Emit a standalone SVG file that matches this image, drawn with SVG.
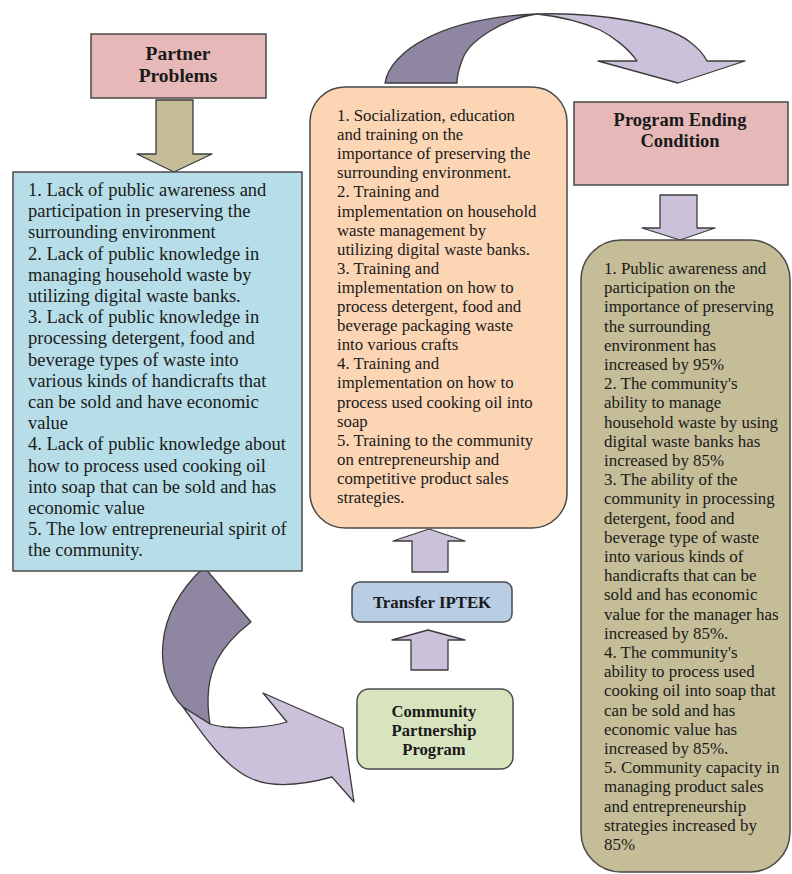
<svg xmlns="http://www.w3.org/2000/svg" width="792" height="874" viewBox="0 0 792 874">
<style>
.box{stroke:#4a4a4a;stroke-width:1.5}
.arr{stroke:#3c3c3c;stroke-width:1.3;stroke-linejoin:round}
.t{font-family:"Liberation Serif","Times New Roman",serif;fill:#1a1a1a}
.title{font-family:"Liberation Serif","Times New Roman",serif;font-weight:bold;fill:#1a1a1a;text-anchor:middle}
.light{fill:#ccc1da}
.dark{fill:#8f86a1}
</style>
<rect width="792" height="874" fill="#ffffff"/>

<g id="connectors">
  <polygon class="arr" fill="#c4bd97" points="156,100 193,100 193,154 212,154 174,172 137,154 156,154"/>
  <polygon class="arr light" points="660,195 697,195 697,228 715,228 680,240 642,228 660,228"/>
  <polygon class="arr light" points="412,572 448,572 448,541 465,541 429,529 393,541 412,541"/>
  <polygon class="arr light" points="411,670 448,670 448,640 465,640 428,630 392,640 411,640"/>
  <path class="arr dark" d="M385,83 C390,52 440,18 537,14 C505,18 470,40 463,58 C459,68 457,76 457,83 Z"/>
  <path class="arr light" d="M537,14 C600,12 668,24 690,42 C698,48 704,55 707,61 L745,61 L678,83 L598,61 L637,61 C628,48 612,36 600,30 C580,21 555,16 537,14 Z"/>
  <path class="arr dark" d="M204,567 C185,585 166,610 163,643 C160,670 170,695 183,707 L210,724 C206,700 208,678 217,660 C226,643 238,632 251,622 Z"/>
  <path class="arr light" d="M183,707 C200,730 222,765 250,778 C275,790 310,783 332,777 L354,802 L343,728 L263,693 L287,722 C270,727 245,729 225,727 C218,726 213,725 210,724 Z"/>
</g>

<g id="partner-problems">
  <rect class="box" x="91" y="34" width="175" height="64" fill="#e6b9b8"/>
  <text class="title" font-size="19.5" x="178" y="60">Partner</text>
  <text class="title" font-size="19.5" x="178" y="82">Problems</text>
</g>

<g id="problems-list">
  <rect class="box" x="13" y="172" width="289" height="399" fill="#b7dee8" stroke="#44586a"/>
  <text class="t" font-size="18.5">
    <tspan x="28" y="196">1. Lack of public awareness and</tspan>
    <tspan x="28" y="217.2">participation in preserving the</tspan>
    <tspan x="28" y="238.4">surrounding environment</tspan>
    <tspan x="28" y="259.6">2. Lack of public knowledge in</tspan>
    <tspan x="28" y="280.8">managing household waste by</tspan>
    <tspan x="28" y="302">utilizing digital waste banks.</tspan>
    <tspan x="28" y="323.2">3. Lack of public knowledge in</tspan>
    <tspan x="28" y="344.4">processing detergent, food and</tspan>
    <tspan x="28" y="365.6">beverage types of waste into</tspan>
    <tspan x="28" y="386.8">various kinds of handicrafts that</tspan>
    <tspan x="28" y="408">can be sold and have economic</tspan>
    <tspan x="28" y="429.2">value</tspan>
    <tspan x="28" y="450.4">4. Lack of public knowledge about</tspan>
    <tspan x="28" y="471.6">how to process used cooking oil</tspan>
    <tspan x="28" y="492.8">into soap that can be sold and has</tspan>
    <tspan x="28" y="514">economic value</tspan>
    <tspan x="28" y="535.2">5. The low entrepreneurial spirit of</tspan>
    <tspan x="28" y="556.4">the community.</tspan>
  </text>
</g>

<g id="activities">
  <rect class="box" x="310" y="87" width="257" height="441" rx="35" fill="#fcd5b5"/>
  <text class="t" font-size="16.8">
    <tspan x="337" y="121">1. Socialization, education</tspan>
    <tspan x="337" y="140.1">and training on the</tspan>
    <tspan x="337" y="159.2">importance of preserving the</tspan>
    <tspan x="337" y="178.3">surrounding environment.</tspan>
    <tspan x="337" y="197.4">2. Training and</tspan>
    <tspan x="337" y="216.5">implementation on household</tspan>
    <tspan x="337" y="235.6">waste management by</tspan>
    <tspan x="337" y="254.7">utilizing digital waste banks.</tspan>
    <tspan x="337" y="273.8">3. Training and</tspan>
    <tspan x="337" y="292.9">implementation on how to</tspan>
    <tspan x="337" y="312">process detergent, food and</tspan>
    <tspan x="337" y="331.1">beverage packaging waste</tspan>
    <tspan x="337" y="350.2">into various crafts</tspan>
    <tspan x="337" y="369.3">4. Training and</tspan>
    <tspan x="337" y="388.4">implementation on how to</tspan>
    <tspan x="337" y="407.5">process used cooking oil into</tspan>
    <tspan x="337" y="426.6">soap</tspan>
    <tspan x="337" y="445.7">5. Training to the community</tspan>
    <tspan x="337" y="464.8">on entrepreneurship and</tspan>
    <tspan x="337" y="483.9">competitive product sales</tspan>
    <tspan x="337" y="503">strategies.</tspan>
  </text>
</g>

<g id="transfer-iptek">
  <rect class="box" x="352" y="582" width="160" height="40" rx="8" fill="#b9cde5" stroke="#4f5f70"/>
  <text class="title" font-size="16.8" x="432" y="608">Transfer IPTEK</text>
</g>

<g id="community-partnership-program">
  <rect class="box" x="357" y="689" width="156" height="80" rx="12" fill="#d7e4bd" stroke="#58604a"/>
  <text class="title" font-size="16.6" x="434" y="717">Community</text>
  <text class="title" font-size="16.6" x="434" y="736">Partnership</text>
  <text class="title" font-size="16.6" x="434" y="755">Program</text>
</g>

<g id="program-ending-condition">
  <rect class="box" x="574" y="102" width="214" height="83" fill="#e6b9b8"/>
  <text class="title" font-size="18.5" x="680" y="126">Program Ending</text>
  <text class="title" font-size="18.5" x="680" y="147">Condition</text>
</g>

<g id="outcomes">
  <rect class="box" x="581" y="240" width="209" height="632" rx="40" fill="#c4bd97" stroke="#5a5a4a"/>
  <text class="t" font-size="16.9">
    <tspan x="604" y="274">1. Public awareness and</tspan>
    <tspan x="604" y="293.2">participation on the</tspan>
    <tspan x="604" y="312.4">importance of preserving</tspan>
    <tspan x="604" y="331.6">the surrounding</tspan>
    <tspan x="604" y="350.8">environment has</tspan>
    <tspan x="604" y="370">increased by 95%</tspan>
    <tspan x="604" y="389.2">2. The community's</tspan>
    <tspan x="604" y="408.4">ability to manage</tspan>
    <tspan x="604" y="427.6">household waste by using</tspan>
    <tspan x="604" y="446.8">digital waste banks has</tspan>
    <tspan x="604" y="466">increased by 85%</tspan>
    <tspan x="604" y="485.2">3. The ability of the</tspan>
    <tspan x="604" y="504.4">community in processing</tspan>
    <tspan x="604" y="523.6">detergent, food and</tspan>
    <tspan x="604" y="542.8">beverage type of waste</tspan>
    <tspan x="604" y="562">into various kinds of</tspan>
    <tspan x="604" y="581.2">handicrafts that can be</tspan>
    <tspan x="604" y="600.4">sold and has economic</tspan>
    <tspan x="604" y="619.6">value for the manager has</tspan>
    <tspan x="604" y="638.8">increased by 85%.</tspan>
    <tspan x="604" y="658">4. The community's</tspan>
    <tspan x="604" y="677.2">ability to process used</tspan>
    <tspan x="604" y="696.4">cooking oil into soap that</tspan>
    <tspan x="604" y="715.6">can be sold and has</tspan>
    <tspan x="604" y="734.8">economic value has</tspan>
    <tspan x="604" y="754">increased by 85%.</tspan>
    <tspan x="604" y="773.2">5. Community capacity in</tspan>
    <tspan x="604" y="792.4">managing product sales</tspan>
    <tspan x="604" y="811.6">and entrepreneurship</tspan>
    <tspan x="604" y="830.8">strategies increased by</tspan>
    <tspan x="604" y="850">85%</tspan>
  </text>
</g>
</svg>
